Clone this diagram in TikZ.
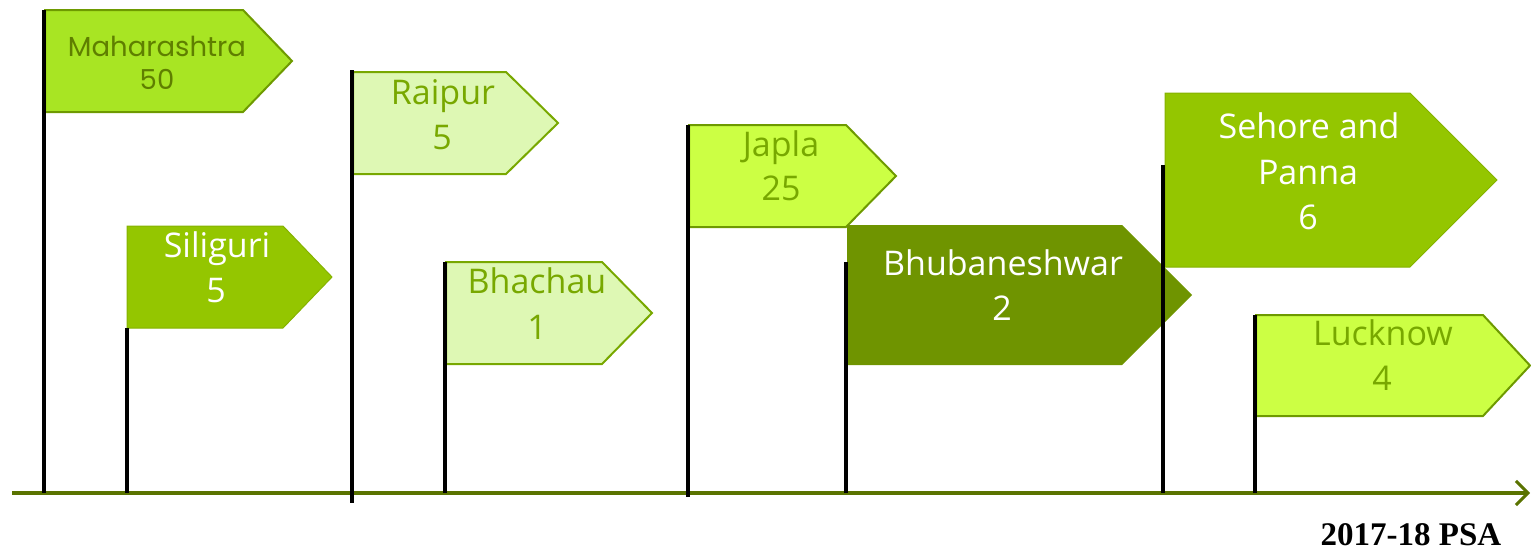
\documentclass[tikz,border=0pt]{standalone}
\usepackage{fontspec}
\setmainfont{Open Sans}
\newfontfamily\gothicfont{Poppins}
\newfontfamily\serifbold{Liberation Serif}
\usetikzlibrary{arrows.meta}
\definecolor{limeF}{HTML}{A8E523}
\definecolor{limeT}{HTML}{5F7F00}
\definecolor{medF}{HTML}{94C600}
\definecolor{lightF}{HTML}{DEF8B4}
\definecolor{softT}{HTML}{78A800}
\definecolor{yelF}{HTML}{CCFF44}
\definecolor{darkF}{HTML}{6F9400}
\definecolor{borderG}{HTML}{6E9A00}
\definecolor{axisG}{HTML}{5A7300}
\tikzset{
  flagtext/.style={anchor=base, inner sep=0pt, font=\fontsize{34}{40}\selectfont},
  pole/.style={line width=4pt, black},
  axisline/.style={line width=4pt, axisG, -{Straight Barb[length=12pt,width=24pt,line width=3pt]}},
  fl/.style={fill=limeF, draw=borderG, line width=2pt},
  fm/.style={fill=medF, draw=medF!90!black, line width=1pt},
  fs/.style={fill=lightF, draw=softT, line width=2pt},
  fy/.style={fill=yelF, draw=borderG, line width=2pt},
  fd/.style={fill=darkF},
}
% #1 left, #2 top, #3 bottom, #4 slope start, #5 tip, #6 style
\newcommand\flagshape[6]{\path[#6] (#1,#2) -- (#4,#2) -- (#5,{(#2+#3)/2}) -- (#4,#3) -- (#1,#3) -- cycle;}
\begin{document}
\begin{tikzpicture}[x=1pt,y=-1pt]
\useasboundingbox (0,0) rectangle (1531,550);
% axis
\coordinate (axL) at (12,493);
\coordinate (axR) at (1530,493);
\draw[axisline] (axL) -- (axR);
% flags
\flagshape{45}{10}{112}{243}{292}{fl}
\flagshape{127}{226}{328}{283}{332}{fm}
\flagshape{353}{72}{174}{506}{558}{fs}
\flagshape{446}{262}{364}{602}{652}{fs}
\flagshape{689}{125}{227}{846}{896}{fy}
\flagshape{847}{225}{365}{1122}{1192}{fd}
\flagshape{1165}{93}{267}{1410}{1497}{fm}
\flagshape{1256}{315}{416}{1483}{1530}{fy}
% poles
\foreach \n/\x/\t/\b in {a/44/10/493, b/127/328/493, c/352/70/503, d/445/262/493, e/688/125/497, f/846/262/493, g/1163/165/493, h/1255/315/493}{
  \coordinate (\n top) at (\x,\t);
  \coordinate (\n bot) at (\x,\b);
  \draw[pole] (\n top) -- (\n bot);
}
% texts
\node[flagtext, text=limeT, font=\gothicfont\fontsize{27.5}{32}\selectfont] (maha) at (157,56) {Maharashtra};
\node[flagtext, text=limeT, font=\gothicfont\fontsize{27.5}{32}\selectfont] (maha n) at (157,89) {50};
\node[flagtext, text=white] (sili) at (217,257) {Siliguri};
\node[flagtext, text=white] (sili n) at (216,302) {5};
\node[flagtext, text=softT] (raip) at (443,104) {Raipur};
\node[flagtext, text=softT] (raip n) at (442,149) {5};
\node[flagtext, text=softT] (bhac) at (537,293) {Bhachau};
\node[flagtext, text=softT] (bhac n) at (537,339) {1};
\node[flagtext, text=softT] (japl) at (781,156) {Japla};
\node[flagtext, text=softT] (japl n) at (781,200) {25};
\node[flagtext, text=white] (bhub) at (1003,275) {Bhubaneshwar};
\node[flagtext, text=white] (bhub n) at (1002,320) {2};
\node[flagtext, text=white] (seho) at (1309,138) {Sehore and};
\node[flagtext, text=white] (seho b) at (1308,184) {Panna};
\node[flagtext, text=white] (seho n) at (1308,229) {6};
\node[flagtext, text=softT] (luck) at (1383,345) {Lucknow};
\node[flagtext, text=softT] (luck n) at (1382,390) {4};
\node[anchor=base, inner sep=0pt, font=\serifbold\bfseries\fontsize{33}{38}\selectfont] (psa) at (1411,545) {2017-18 PSA};
\end{tikzpicture}
\end{document}
